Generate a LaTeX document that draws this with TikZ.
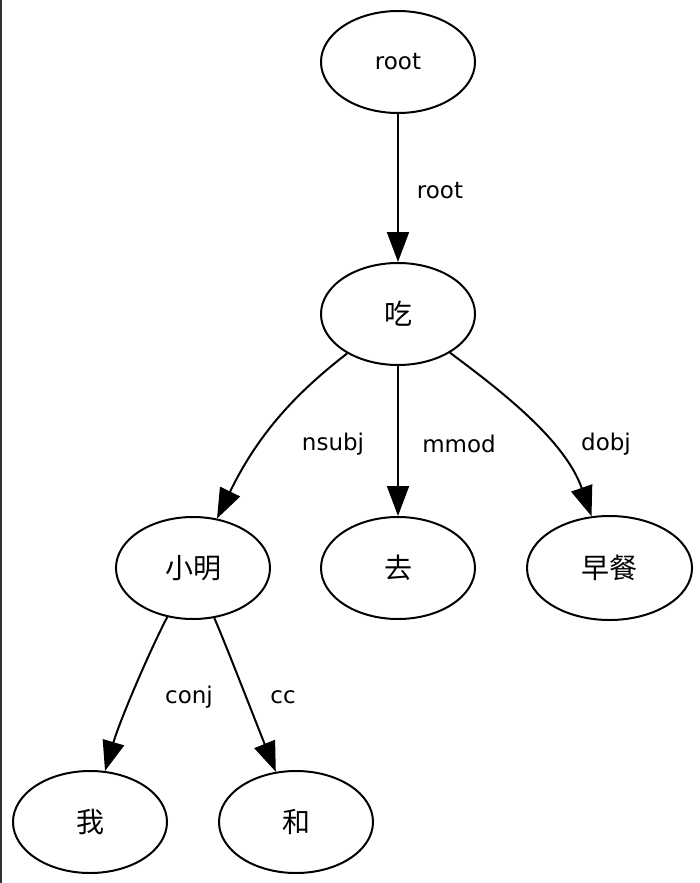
\documentclass[tikz,border=0pt]{standalone}
\usepackage{fontspec}
\setmainfont{DejaVu Sans}
\newfontfamily\cjk{Noto Sans CJK SC}
\usetikzlibrary{shapes.geometric, arrows.meta}
\definecolor{frame}{HTML}{2B303B}

\begin{document}
\begin{tikzpicture}[x=1pt, y=-1pt]
\tikzstyle{word}=[ellipse, draw, line width=2pt, minimum width=154pt, minimum height=102pt, inner sep=0pt, font=\fontsize{23}{26}\selectfont]
\tikzstyle{hanzi}=[word, font=\cjk\fontsize{28}{30}\selectfont]
\tikzstyle{dep}=[line width=2pt, -{Triangle[length=30pt, width=22pt]}]
\tikzstyle{rel}=[font=\fontsize{23}{26}\selectfont]

\useasboundingbox (0,0) rectangle (699,883);
\draw[line width=1.5pt, frame] (1,0) -- (1,883);

\node[word] (root) at (398,62) {root};
\foreach \n/\x/\y/\t in {chi/398/314/吃, xiaoming/193/568/小明, qu/398/568/去, wo/90/822/我, he/296/822/和} {
\node[hanzi] (\n) at (\x,\y) {\t};
}
\node[hanzi, minimum width=165pt, minimum height=104pt] (zaocan) at (609.5,568) {早餐};

\draw[dep] (root) -- (chi);
\draw[dep] (chi) .. controls (300,390) and (260,430) .. (xiaoming);
\draw[dep] (chi) -- (qu);
\draw[dep] (chi) .. controls (500,390) and (565,440) .. (zaocan);
\draw[dep] (xiaoming) .. controls (150,650) and (120,720) .. (wo);
\draw[dep] (xiaoming) .. controls (228,650) and (255,720) .. (he);

\node[rel] (l-root) at (440,191) {root};
\node[rel] (l-nsubj) at (333,444) {nsubj};
\node[rel] (l-mmod) at (459,444) {mmod};
\node[rel] (l-dobj) at (606,444) {dobj};
\node[rel] (l-conj) at (189,697) {conj};
\node[rel] (l-cc) at (283,697) {cc};

\end{tikzpicture}
\end{document}
